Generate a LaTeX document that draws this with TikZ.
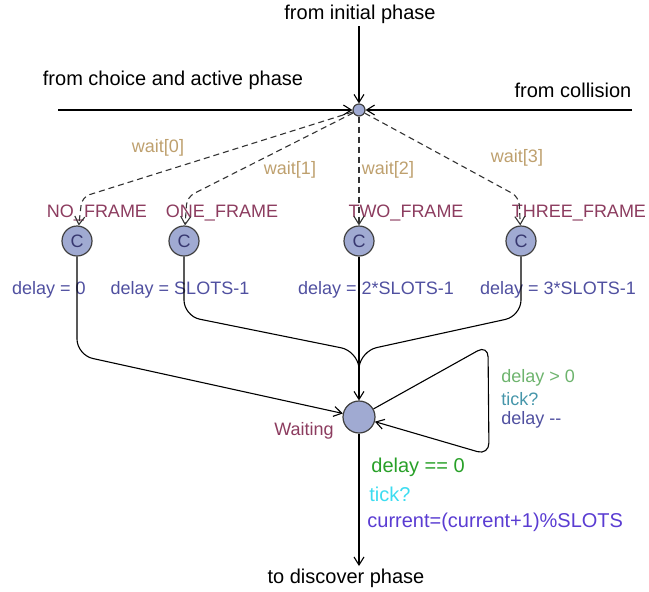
\documentclass[tikz,border=0pt]{standalone}
\usepackage{fontspec}
\setmainfont{Liberation Sans}
\usetikzlibrary{arrows.meta}

\definecolor{locname}{RGB}{140,60,95}
\definecolor{locfill}{RGB}{160,170,210}
\definecolor{syncol}{RGB}{190,160,110}
\definecolor{assigncol}{RGB}{80,80,160}
\definecolor{guardlt}{RGB}{110,180,110}
\definecolor{ticklt}{RGB}{70,150,170}
\definecolor{guardcol}{RGB}{40,160,40}
\definecolor{tickcol}{RGB}{60,220,240}
\definecolor{updcol}{RGB}{90,60,210}

\tikzset{
  loc/.style={circle,draw=black!75,fill=locfill,minimum size=15pt,inner sep=0pt,line width=0.6pt},
  locname/.style={text=locname,inner sep=1pt},
  sync/.style={text=syncol,inner sep=1pt},
  assign/.style={text=assigncol,inner sep=1pt},
  phase/.style={font=\fontsize{10}{12}\selectfont},
  edge/.style={->,line width=0.55pt},
  waitedge/.style={edge,draw=black!80,dash pattern=on 3pt off 2pt},
}

\begin{document}
\begin{tikzpicture}[x=0.5pt,y=-0.5pt,font=\fontsize{9}{11}\selectfont,
    >={Straight Barb[length=4pt,width=5pt]}]
  \useasboundingbox (0,0) rectangle (649,591);

  % entry point and the three ways in
  \node[loc,minimum size=6pt] (hub) at (359,110) {};
  \node[phase] (initial) at (360,14) {from initial phase};
  \node[phase] (choice) at (173,80) {from choice and active phase};
  \node[phase] (collision) at (573,90) {from collision};
  \coordinate (top) at (359,26);
  \coordinate (left) at (58,110);
  \coordinate (right) at (632,110);
  \draw[edge] (top) -- (hub);
  \draw[edge] (left) -- (hub);
  \draw[edge] (right) -- (hub);

  % committed locations, one per frame count
  \foreach \id/\x/\bx/\nx/\nm/\wx/\wy/\wl/\dx/\dl in {
      nf/77/82/97/NO\_FRAME/158/148/wait[0]/49/{delay = 0},
      of/184/187/222/ONE\_FRAME/290/170/wait[1]/180/{delay = SLOTS-1},
      tf/359/359/406/TWO\_FRAME/388/170/wait[2]/376/{delay = 2*SLOTS-1},
      hf/521/519/579/THREE\_FRAME/517/158/wait[3]/558/{delay = 3*SLOTS-1}}{
    \node[loc] (\id) at (\x,241) {\color{assigncol!70!black}C};
    \node[locname] (\id-name) at (\nx,213) {\nm};
    \node[sync] (\id-wait) at (\wx,\wy) {\wl};
    \node[assign] (\id-upd) at (\dx,290) {\dl};
    \draw[waitedge,rounded corners=4] (hub) -- (\bx,197) -- (\id);
  }

  % waiting location
  \node[loc,minimum size=16pt] (w) at (359,417) {};
  \node[locname] (w-name) at (304,431) {Waiting};
  \coordinate (merge) at (359,368);
  \draw[edge,rounded corners=8] (nf) -- (77,355) -- (w);
  \draw[line width=0.55pt,rounded corners=8] (of) -- (184,316) -- (357,351) -- (merge);
  \draw[edge] (tf) -- (w);
  \draw[line width=0.55pt,rounded corners=8] (hf) -- (521,316) -- (361,351) -- (merge);

  % count down one tick at a time
  \draw[edge,rounded corners=6] (w) -- (488,345) -- (489,455) -- (w);
  \node[text=guardlt,anchor=west,inner sep=0pt] (loop-g) at (501,378) {delay > 0};
  \node[text=ticklt,anchor=west,inner sep=0pt] (loop-s) at (501,399) {tick?};
  \node[text=assigncol,anchor=west,inner sep=0pt] (loop-u) at (501,420) {delay -{}-};

  % leave when the delay is used up
  \coordinate (out) at (359,566);
  \draw[edge] (w) -- (out);
  \node[phase] (discover) at (346,578) {to discover phase};
  \begin{scope}[font=\fontsize{10}{12}\selectfont]
    \node[text=guardcol,anchor=west,inner sep=0pt] (exit-g) at (371,467) {delay == 0};
    \node[text=tickcol,anchor=west,inner sep=0pt] (exit-s) at (369,494) {tick?};
    \node[text=updcol,anchor=west,inner sep=0pt] (exit-u) at (367,522) {current=(current+1)\%SLOTS};
  \end{scope}
\end{tikzpicture}
\end{document}
